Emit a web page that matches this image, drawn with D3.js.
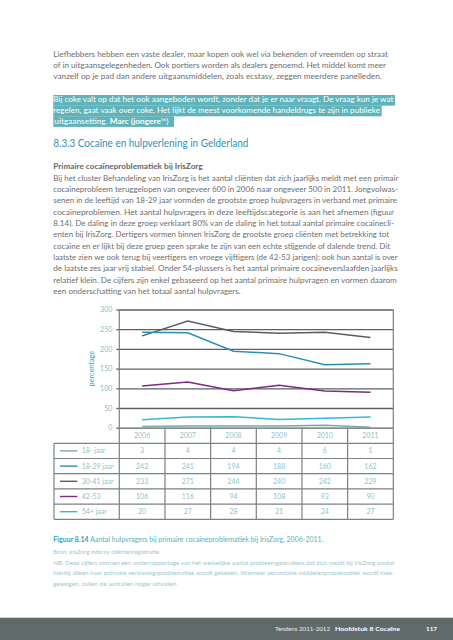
<!DOCTYPE html>
<html><head><meta charset="utf-8">
<script src="https://cdn.jsdelivr.net/npm/d3@7"></script>
<style>html,body{margin:0;padding:0;background:#fff;}svg{display:block;font-family:Lato,"Open Sans",sans-serif;}svg text{font-family:Lato,"Open Sans",sans-serif;}</style>
</head><body>
<script>
// ---------- DATA ----------
const years = ["2006","2007","2008","2009","2010","2011"];
const seriesNames = ["18- jaar","18-29 jaar","30-41 jaar","42-53","54+ jaar"];
const s18min = [3,4,4,4,6,1];
const s18_29 = [242,241,194,188,160,162];
const s30_41 = [233,271,244,240,242,229];
const s42_53 = [106,116,94,108,93,90];
const s54plus = [20,27,28,21,24,27];
const yTicks = [0,50,100,150,200,250,300];
const yLabel = "percentage";

const para1 = [
 "Liefhebbers hebben een vaste dealer, maar kopen ook wel via bekenden of vreemden op straat",
 "of in uitgaansgelegenheden. Ook portiers worden als dealers genoemd. Het middel komt meer",
 "vanzelf op je pad dan andere uitgaansmiddelen, zoals ecstasy, zeggen meerdere panelleden."];
const quote = [
 "Bij coke valt op dat het ook aangeboden wordt, zonder dat je er naar vraagt. De vraag kun je wat",
 "regelen, gaat vaak over coke. Het lijkt de meest voorkomende handeldrugs te zijn in publieke",
 "uitgaansetting. "];
const quoteAuthor = "Marc (jongere";
const quoteNote = "56";
const heading = "8.3.3 Cocaïne en hulpverlening in Gelderland";
const subHeading = "Primaire cocaïneproblematiek bij IrisZorg";
const body = [
 "Bij het cluster Behandeling van IrisZorg is het aantal cliënten dat zich jaarlijks meldt met een primair",
 "cocaïneprobleem teruggelopen van ongeveer 600 in 2006 naar ongeveer 500 in 2011. Jongvolwas-",
 "senen in de leeftijd van 18-29 jaar vormden de grootste groep hulpvragers in verband met primaire",
 "cocaïneproblemen. Het aantal hulpvragers in deze leeftijdscategorie is aan het afnemen (figuur",
 "8.14). De daling in deze groep verklaart 80% van de daling in het totaal aantal primaire cocaïnecli-",
 "enten bij IrisZorg. Dertigers vormen binnen IrisZorg de grootste groep cliënten met betrekking tot",
 "cocaïne en er lijkt bij deze groep geen sprake te zijn van een echte stijgende of dalende trend. Dit",
 "laatste zien we ook terug bij veertigers en vroege vijftigers (de 42-53 jarigen): ook hun aantal is over",
 "de laatste zes jaar vrij stabiel. Onder 54-plussers is het aantal primaire cocaïneverslaafden jaarlijks",
 "relatief klein. De cijfers zijn enkel gebaseerd op het aantal primaire hulpvragen en vormen daarom",
 "een onderschatting van het totaal aantal hulpvragers."];
const captionBold = "Figuur 8.14";
const captionText = " Aantal hulpvragers bij primaire cocaïneproblematiek bij IrisZorg, 2006-2011.";
const source = "Bron: IrisZorg Inforay cliëntenregistratie.";
const note = [
 "NB. Deze cijfers vormen een onderrapportage van het werkelijke aantal probleemgebruikers dat zich meldt bij IrisZorg omdat",
 "hierbij alleen naar primaire verslavingsproblematiek wordt gekeken. Wanneer secundaire middelenproblematiek wordt mee-",
 "gewogen, zullen de aantallen hoger uitvallen."];
const footer = ["Tendens 2011-2012", "Hoofdstuk 8 Cocaïne", "117"];

// ---------- LAYOUT (widths of text lines) ----------
const para1W = [334.5, 332.7, 328.4];
const quoteW = [340, 326.7];
const bodyW = [345, 344.7, 343.7, 340.7, 340.7, 335.7, 336.7, 344.4, 344.4, 343.4, 187.4];
const noteW = [341, 341, 124.4];

const W = 453, H = 640, L = 53.3;
const svg = d3.select("body").append("svg").attr("width", W).attr("height", H);

function lines(arr, widths, y0, dy, opts) {
  arr.forEach((t, i) => {
    const el = svg.append("text").attr("x", L).attr("y", y0 + i * dy)
      .attr("font-size", opts.size).attr("fill", opts.color).text(t);
    if (opts.weight) el.attr("font-weight", opts.weight);
    if (widths && widths[i]) el.attr("textLength", widths[i]).attr("lengthAdjust", "spacingAndGlyphs");
  });
}

// paragraph 1
lines(para1, para1W, 57.2, 11.1, {size: 8.3, color: "#6e6e6e"});

// quote highlight
const hlColor = "#5fb3ba";
const hlRight = [395, 381.7, 174];
hlRight.forEach((r, i) => {
  svg.append("rect").attr("x", L).attr("y", 95 + i * 10.6).attr("width", r - L).attr("height", 10.7).attr("fill", hlColor);
});
lines(quote.slice(0, 2), quoteW, 102.2, 11, {size: 8.3, color: "#ffffff"});
const q3 = svg.append("text").attr("x", L + 1).attr("y", 124.2).attr("font-size", 8.3).attr("fill", "#fff");
q3.append("tspan").text(quote[2]);
q3.append("tspan").attr("font-weight", "bold").text(quoteAuthor);
q3.append("tspan").attr("font-size", 4.5).attr("dy", -3).text(quoteNote);
q3.append("tspan").attr("dy", 3).text(")");

// heading
svg.append("text").attr("x", L).attr("y", 147.2).attr("font-size", 11).attr("fill", "#2e93b6")
  .attr("textLength", 195).attr("lengthAdjust", "spacingAndGlyphs").text(heading);

// body
svg.append("text").attr("x", L).attr("y", 169).attr("font-size", 8.3).attr("font-weight", "bold")
  .attr("fill", "#666").attr("textLength", 149.4).attr("lengthAdjust", "spacingAndGlyphs").text(subHeading);
lines(body, bodyW, 180.6, 11.33, {size: 8.3, color: "#6e6e6e"});

// ---------- CHART ----------
const plotL = 119.3, plotR = 393.3, plotT = 309.5, plotB = 427.7;
const tabL = 54, tabB = 519.3;
const x = d3.scaleBand().domain(years).range([plotL, plotR]);
const y = d3.scaleLinear().domain([0, 300]).range([plotB, plotT]);
const gridColor = "#5d6062";

// grid
svg.append("g").attr("transform", `translate(${plotL},0)`)
  .call(d3.axisLeft(y).tickValues(yTicks).tickSize(-(plotR - plotL)).tickFormat(""))
  .call(g => g.select(".domain").remove())
  .call(g => g.selectAll("line").attr("stroke", gridColor).attr("stroke-width", 1.3));
// y axis labels + small ticks
svg.append("g").attr("transform", `translate(${plotL},0)`)
  .call(d3.axisLeft(y).tickValues(yTicks).tickSize(3).tickPadding(4))
  .call(g => g.select(".domain").remove())
  .call(g => g.selectAll("line").attr("stroke", gridColor).attr("stroke-width", 1.3))
  .call(g => g.selectAll("text").attr("fill", "#86bccb").attr("font-size", 7).attr("font-family", "Lato,sans-serif"));

svg.append("text").attr("transform", `translate(93.5,${(plotT + plotB) / 2}) rotate(-90)`)
  .attr("text-anchor", "middle").attr("font-size", 7.3).attr("font-family", "Lato,sans-serif")
  .attr("fill", "#3aa2bb").text(yLabel);

// series
const seriesVals = [s18min, s18_29, s30_41, s42_53, s54plus];
const colors = ["#78a9a9", "#2b8db4", "#5a5d60", "#7b2b85", "#35b6dc"];
const line = d3.line().x((d, i) => x(years[i]) + x.bandwidth() / 2).y(d => y(d));
const drawOrder = [0, 4, 3, 2, 1];
drawOrder.forEach(k => {
  svg.append("path").datum(seriesVals[k]).attr("d", line).attr("fill", "none")
    .attr("stroke", colors[k]).attr("stroke-width", 1.5);
});

// table
const rowY = d3.scaleBand().domain(seriesNames).range([443.3, tabB]);
const tb = svg.append("g").attr("stroke", "#7d8183").attr("stroke-width", 1.2);
x.domain().forEach(yr => {
  tb.append("line").attr("x1", x(yr)).attr("x2", x(yr)).attr("y1", yr === years[0] ? plotT : plotB).attr("y2", tabB);
});
tb.append("line").attr("x1", plotR).attr("x2", plotR).attr("y1", plotT).attr("y2", tabB);
tb.append("line").attr("x1", tabL).attr("x2", tabL).attr("y1", rowY(seriesNames[0])).attr("y2", tabB);
seriesNames.forEach(n => {
  tb.append("line").attr("x1", tabL).attr("x2", plotR).attr("y1", rowY(n)).attr("y2", rowY(n));
});
tb.append("line").attr("x1", tabL).attr("x2", plotR).attr("y1", tabB).attr("y2", tabB);

const tcol = "#8fbfc8";
years.forEach(yr => {
  svg.append("text").attr("x", x(yr) + x.bandwidth() / 2).attr("y", (plotB + rowY(seriesNames[0])) / 2 + 2.5)
    .attr("text-anchor", "middle").attr("font-size", 7).attr("fill", tcol).text(yr);
});
seriesNames.forEach((n, k) => {
  const cy = rowY(n) + rowY.bandwidth() / 2;
  svg.append("line").attr("x1", 60).attr("x2", 77.3).attr("y1", cy).attr("y2", cy)
    .attr("stroke", colors[k]).attr("stroke-width", 1.4);
  svg.append("text").attr("x", 81.7).attr("y", cy + 2.5).attr("font-size", 7).attr("fill", tcol).text(n);
  seriesVals[k].forEach((v, i) => {
    svg.append("text").attr("x", x(years[i]) + x.bandwidth() / 2).attr("y", cy + 2.5)
      .attr("text-anchor", "middle").attr("font-size", 7).attr("fill", tcol).text(v);
  });
});

// caption
const cap = svg.append("text").attr("x", L).attr("y", 541.8).attr("font-size", 6.8).attr("fill", "#5eaebb")
  .attr("textLength", 270).attr("lengthAdjust", "spacingAndGlyphs");
cap.append("tspan").attr("font-weight", "bold").attr("fill", "#3d9fb3").text(captionBold);
cap.append("tspan").text(captionText);
svg.append("text").attr("x", L).attr("y", 554).attr("font-size", 5.4).attr("fill", "#9cc7cd")
  .attr("textLength", 107).attr("lengthAdjust", "spacingAndGlyphs").text(source);
lines(note, noteW, 564.8, 10.65, {size: 5.6, color: "#9cc7cd"});

// footer
svg.append("rect").attr("x", 0).attr("y", 617.7).attr("width", W).attr("height", H - 617.7).attr("fill", "#616a6b");
svg.append("text").attr("x", 275).attr("y", 631).attr("font-size", 6.3).attr("fill", "#e8eaea")
  .attr("textLength", 55).attr("lengthAdjust", "spacingAndGlyphs").text(footer[0]);
svg.append("text").attr("x", 335).attr("y", 631).attr("font-size", 6.3).attr("font-weight", "bold").attr("fill", "#fff")
  .attr("textLength", 65).attr("lengthAdjust", "spacingAndGlyphs").text(footer[1]);
svg.append("text").attr("x", 426).attr("y", 631).attr("font-size", 6.3).attr("font-weight", "bold").attr("fill", "#fff")
  .text(footer[2]);
</script>
</body></html>
